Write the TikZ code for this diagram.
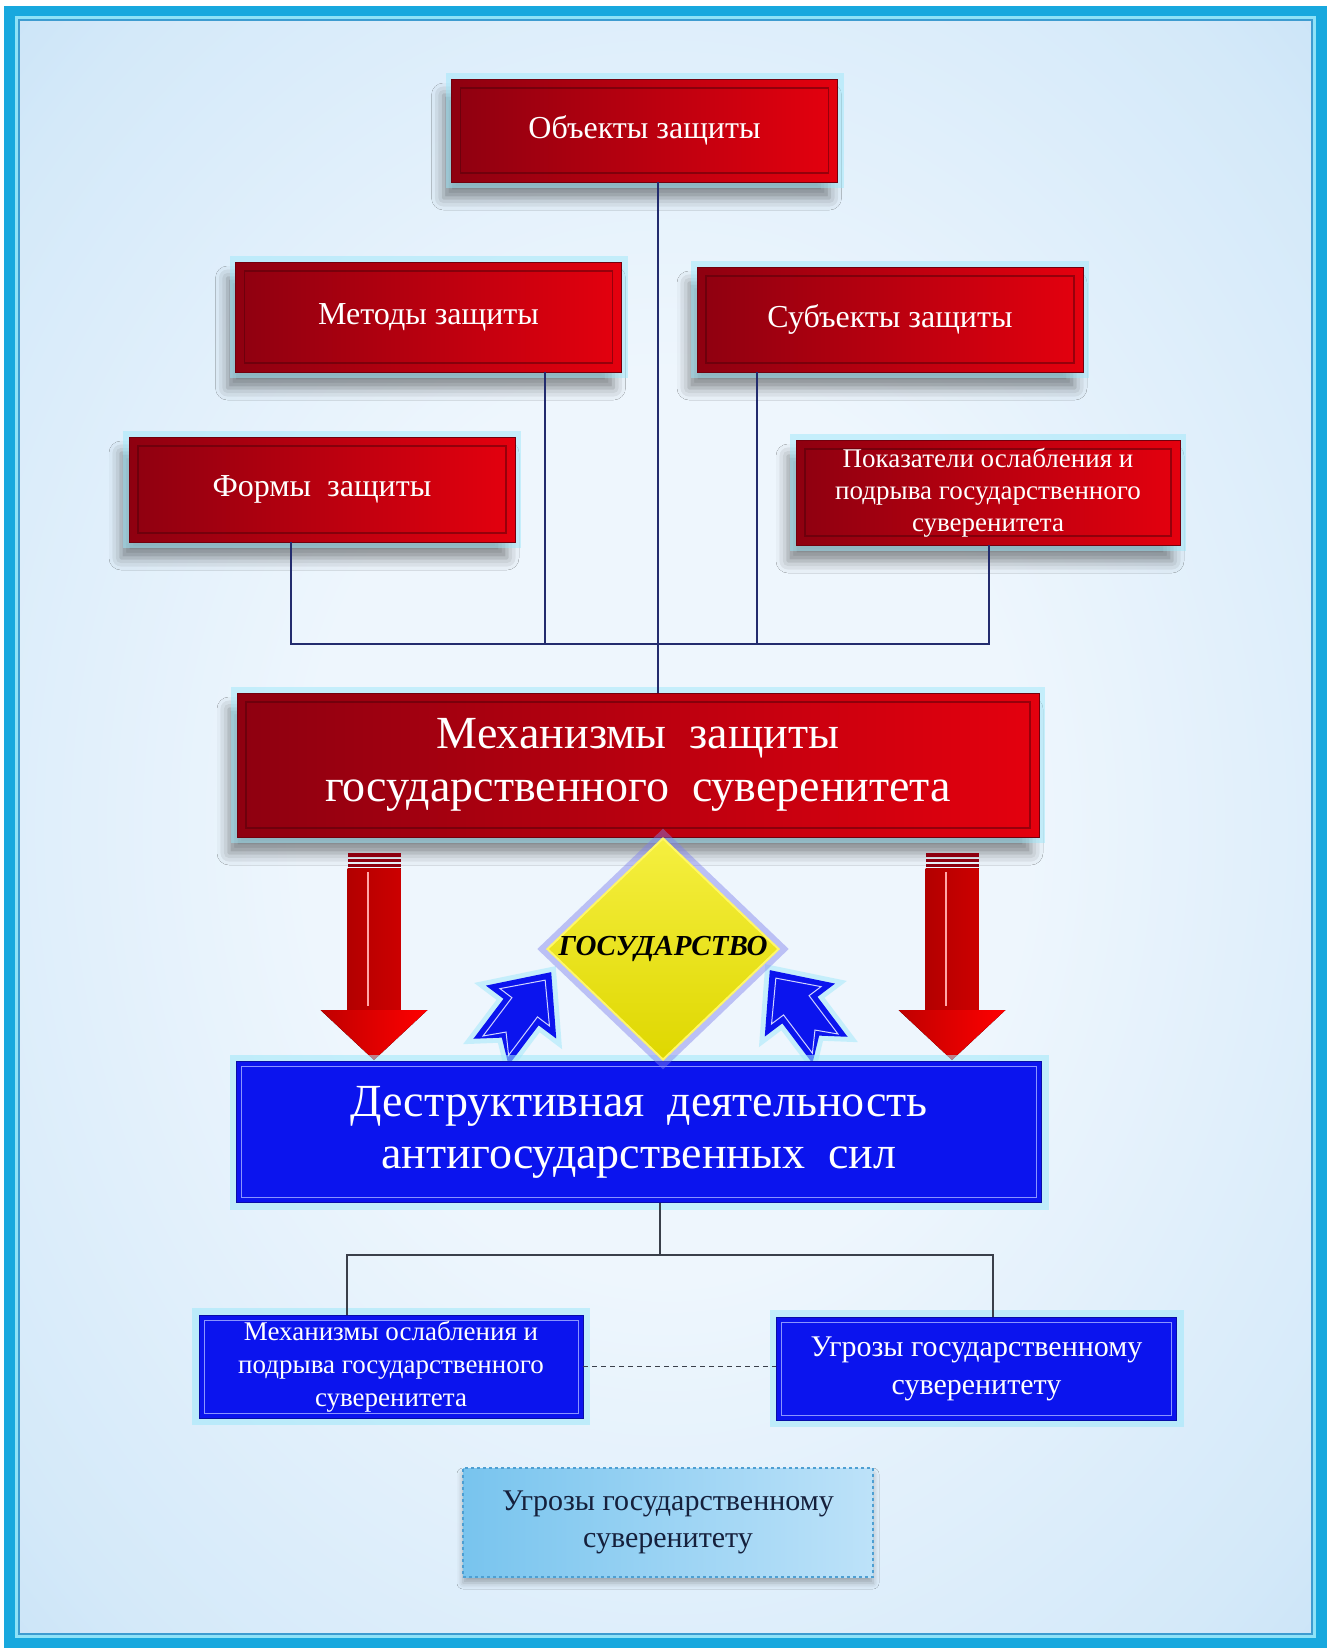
\documentclass[tikz,border=0pt]{standalone}
\usepackage{fontspec}
\setmainfont{Liberation Serif}
\usetikzlibrary{arrows.meta, positioning, shapes.geometric, calc, shadows.blur}

\definecolor{mframe}{HTML}{18A8DE}
\definecolor{mframelight}{HTML}{8FE2F7}
\definecolor{mframeline}{HTML}{3E9CD0}
\definecolor{mbgin}{HTML}{EEF6FD}
\definecolor{mbgmid}{HTML}{D4E9F9}
\definecolor{mbgedge}{HTML}{ADD4F3}
\definecolor{mredL}{HTML}{8E0010}
\definecolor{mredR}{HTML}{E4000E}
\definecolor{mblue}{HTML}{0B14EE}
\definecolor{mblueline}{HTML}{8A94FF}
\definecolor{mglow}{HTML}{9EE8FA}
\definecolor{mlink}{HTML}{232C6E}
\definecolor{mlinkgray}{HTML}{3A3F4A}
\definecolor{myellow}{HTML}{F2EA00}
\definecolor{mviolet}{HTML}{7F80EC}
\definecolor{mnavy}{HTML}{15203C}
\definecolor{mpaleL}{HTML}{78C4EE}
\definecolor{mpaleR}{HTML}{BDE2F9}
\definecolor{mpaledash}{HTML}{4E9FD2}

\pgfdeclareradialshading{bgglow}{\pgfpoint{0bp}{0bp}}{color(0bp)=(mbgin); color(14bp)=(mbgin); color(32bp)=(mbgmid); color(50bp)=(mbgedge)}

\tikzset{
  redbox/.style={blur shadow={shadow xshift=-8pt, shadow yshift=-16pt,
                 shadow blur radius=12pt, shadow opacity=45},
                 preaction={draw=mglow, line width=12pt, opacity=.5},
                 draw=mredL!80!black, left color=mredL, right color=mredR,
                 text=white, align=center, inner sep=4pt,
                 minimum width=386pt, minimum height=105pt,
                 font=\fontsize{32}{38}\selectfont,
                 path picture={\draw[mredL!55!black, line width=1.2pt, opacity=.5]
                   ([shift={(9pt,-9pt)}]path picture bounding box.north west) rectangle
                   ([shift={(-9pt,9pt)}]path picture bounding box.south east);}},
  bigred/.style={redbox, minimum width=802pt, minimum height=144pt,
                 font=\fontsize{46}{53}\selectfont},
  bluebox/.style={preaction={draw=mglow, line width=14pt, opacity=.55},
                  draw=mblue!70!black, fill=mblue, text=white, align=center,
                  inner sep=4pt, minimum width=384pt, minimum height=103pt,
                  font=\fontsize{27}{33}\selectfont,
                  path picture={\draw[mblueline, line width=1pt]
                    ([shift={(5pt,-5pt)}]path picture bounding box.north west) rectangle
                    ([shift={(-5pt,5pt)}]path picture bounding box.south east);}},
  bigblue/.style={bluebox, minimum width=805pt, minimum height=141pt,
                  font=\fontsize{46}{52}\selectfont},
  palebox/.style={blur shadow={shadow xshift=0pt, shadow yshift=-6pt,
                  shadow blur radius=6pt, shadow opacity=30},
                  draw=mpaledash, dashed, line width=2pt, left color=mpaleL,
                  right color=mpaleR, text=mnavy, align=center,
                  minimum width=410pt, minimum height=109pt,
                  font=\fontsize{30}{37}\selectfont},
  statebox/.style={diamond, minimum width=232pt, minimum height=222pt, inner sep=0pt,
                   preaction={draw=mviolet, line width=14pt, opacity=.45},
                   draw=yellow!60!white, line width=2pt,
                   top color=myellow!75!white, bottom color=myellow!92!black},
  statetext/.style={font=\fontsize{29}{32}\selectfont\bfseries\itshape, text=black},
  link/.style={draw=mlink, line width=1.6pt},
  graylink/.style={draw=mlinkgray, line width=1.6pt},
  dlink/.style={draw=mlinkgray, dash pattern=on 5pt off 4pt, line width=1.8pt},
}

\begin{document}
\begin{tikzpicture}[x=1pt, y=-1pt]
  \useasboundingbox (0,0) rectangle (1331,1652);
  % frame and background
  \fill[white] (0,0) rectangle (1331,1652);
  \fill[mframe] (4,6) rectangle (1327,1648);
  \fill[mframelight] (15,16) rectangle (1316,1638);
  \shade[shading=bgglow] (19,20) rectangle (1312,1634);
  \draw[mframeline, line width=2pt] (19,20) rectangle (1312,1634);

  % upper part
  \node[redbox, minimum height=103pt] (obj) at (644.5,130.5) {Объекты защиты};
  \node[redbox, minimum height=110pt] (meth) at (428.5,317) {Методы защиты};
  \node[redbox] (subj) at (890,319.5) {Субъекты защиты};
  \node[redbox] (form) at (322,489.5) {Формы~~защиты};
  \node[redbox, minimum width=384pt, font=\fontsize{27}{32}\selectfont] (pokaz) at (988,492.5)
    {Показатели ослабления и\\подрыва государственного\\суверенитета};
  \node[bigred] (mech) at (638,765) {Механизмы~~защиты\\государственного~~суверенитета};

  \coordinate (bus) at (658,644);
  \draw[link] (obj.south -| bus) -- (mech.north -| bus);
  \draw[link] (form.south -| 291,0) |- (bus);
  \draw[link] (meth.south -| 545,0) |- (bus);
  \draw[link] (subj.south -| 757,0) |- (bus);
  \draw[link] (pokaz.south -| 989,0) |- (bus);

  % red block arrows
  \foreach \ax in {374,952} {
    \fill[mredL] (\ax-26.5,853) rectangle (\ax+26.5,856.5);
    \fill[mredL] (\ax-26.5,858.5) rectangle (\ax+26.5,862);
    \fill[mredL] (\ax-26.5,864) rectangle (\ax+26.5,867);
    \fill[left color=red!70!black, middle color=red, right color=red!80!black]
      (\ax-26.5,868) rectangle (\ax+26.5,1012);
    \draw[red!35!white, line width=1.4pt] (\ax-6,872) -- (\ax-6,1006);
    \fill[left color=red!75!black, right color=red] (\ax-53.5,1010) -- (\ax+53.5,1010) -- (\ax,1060) -- cycle;
  }

  % blue block arrows
  \foreach \bx/\by/\ba in {491/1052/53, 830/1050/127} {
    \begin{scope}[shift={(\bx,\by)}, rotate=\ba]
      \fill[mblue, preaction={draw=mglow, line width=10pt, opacity=.5}]
        (0,-22) -- (50,-22) -- (50,-44) -- (100,0) -- (50,44) -- (50,22) -- (0,22) -- (18,0) -- cycle;
      \draw[mblueline!40!white, line width=1pt]
        (8,-16) -- (56,-16) -- (56,-31) -- (90,0) -- (56,31) -- (56,16) -- (8,16) -- (25,0) -- cycle;
    \end{scope}
  }

  \node[bigblue] (destr) at (639,1132) {Деструктивная~~деятельность\\антигосударственных~~сил};
  \node[statebox] (state) at (663,949) {};
  \node[statetext] (statelbl) at (state.center) {ГОСУДАРСТВО};

  % lower part
  \node[bluebox] (weak) at (391,1366.5)
    {Механизмы ослабления и\\подрыва государственного\\суверенитета};
  \node[bluebox, minimum width=400pt, font=\fontsize{30}{38}\selectfont] (threat) at (976.5,1368.5)
    {Угрозы государственному\\суверенитету};

  \coordinate (bus2) at (660,1255);
  \draw[graylink] (destr.south -| bus2) -- (bus2);
  \draw[graylink] (weak.north -| 347,0) |- (bus2);
  \draw[graylink] (threat.north -| 993,0) |- (bus2);
  \draw[dlink] (weak.east) -- (weak.east -| threat.west);

  \node[palebox] (note) at (668,1522.5) {Угрозы государственному\\суверенитету};
\end{tikzpicture}
\end{document}
